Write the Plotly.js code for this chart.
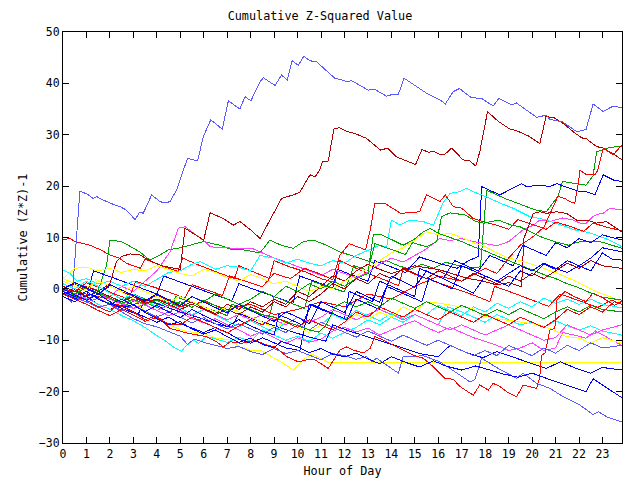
<!DOCTYPE html>
<html>
<head>
<meta charset="utf-8">
<script src="https://cdn.plot.ly/plotly-3.0.1.min.js"></script>
<style>
html,body{margin:0;padding:0;background:#fff;}
#chart{width:640px;height:480px;}
#chart path.js-line, #chart path.xlines-above, #chart path.ylines-above, #chart path.xtick, #chart path.ytick { shape-rendering: crispEdges; }
</style>
</head>
<body>
<div id="chart"></div>
<script>
// Hour tick labels
const hourTicks = [0,1,2,3,4,5,6,7,8,9,10,11,12,13,14,15,16,17,18,19,20,21,22,23];

// Series (hour, cumulative value)
const s01H = [0,0.37,0.72,0.8,1.01,1.29,1.44,1.58,2.0,2.43,2.7,3.07,3.28,3.42,3.78,4.13,4.35,4.56,4.85,5.13,5.31,5.74,5.98,6.3,6.79,7.05,7.54,7.76,8.01,8.4,8.54,9.04,9.32,9.56,9.77,10.03,10.27,10.53,10.81,11.59,12.09,12.31,13.01,13.3,13.8,14.08,14.3,14.54,15.5,16.07,16.3,16.64,16.9,17.42,17.84,18.34,18.58,19.12,19.33,20.19,20.6,20.76,21.3,21.9,22.3,22.6,23.03,23.46,23.83];
const s01V = [0,-2.8,19.0,18.9,18.5,17.6,17.95,17.6,16.7,16.0,15.35,13.5,15.0,14.7,18.3,17.0,16.7,17.0,19.3,23.1,25.4,24.9,29.6,32.9,31.1,36.6,35.0,37.4,36.6,40.3,41.1,39.6,41.6,40.7,44.4,43.5,45.3,44.4,44.2,41.0,40.4,40.5,38.7,38.8,37.5,37.9,37.9,41.0,38.1,36.8,36.0,38.4,39.0,37.2,37.1,35.6,37.1,35.8,36.2,33.4,33.8,33.0,32.5,30.6,31.0,36.0,34.5,35.6,35.2];

const s02H = [0,0.5,1,1.5,2,2.28,2.5,2.86,3.28,3.7,4.2,4.77,5.0,5.2,5.5,6.0,6.27,6.83,7.26,7.54,8.0,8.4,8.54,9.0,9.32,9.82,10.1,10.32,10.53,10.75,10.95,11.07,11.31,11.55,11.78,12.09,12.52,12.94,13.54,13.84,14.22,15.03,15.3,15.6,15.8,16.07,16.28,16.57,17.06,17.35,17.6,17.77,18.1,18.56,19.05,19.33,19.83,20.33,20.59,20.9,21.33,21.75,22.11,22.32,22.75,23.03,23.53,23.83];
const s02V = [0,-0.5,0.5,-0.5,1.0,5.3,6.3,6.8,6.6,5.5,4.5,4.0,3.8,11.8,11.0,9.5,14.8,13.7,12.4,13.1,11.5,9.8,11.0,15.0,17.6,18.3,18.8,20.6,22.2,21.8,23.2,24.8,24.9,31.1,31.4,30.7,30.1,29.3,27.0,27.4,25.7,24.2,27.1,26.6,26.8,26.2,26.2,27.4,25.1,24.9,23.9,26.7,34.5,32.6,31.1,30.8,29.8,28.3,33.5,33.4,32.2,30.6,29.4,29.2,27.7,27.4,26.1,25.1];

const s03H = [0,0.3,0.5,1.15,1.6,2,2.4,2.7,3.3,3.5,4.2,4.9,5.1,5.8,6.6,7.3,7.5,8.2,8.8,9.0,9.6,10.4,11,11.6,11.8,12.4,13,13.8,14.3,14.5,15.2,16,16.8,17.5,18.2,18.4,19.2,20,20.7,21.2,22,22.8,23.4,23.83];
const s03V = [9.5,9.85,9.2,8.5,7.6,6.6,6.0,5.0,4.0,5.8,4.5,3.4,6.0,4.6,3.2,2.0,4.5,3.2,2.0,5.5,4.4,3.2,2.0,1.2,5.5,4.2,3.0,1.6,0.6,3.8,2.5,1.2,0,-1.2,-2.5,0.5,-0.8,-2.2,-3.4,-1.0,-2.3,-3.6,-2.2,-3.0];

const s04H = [0,0.5,1,1.5,1.86,2.0,2.5,3.28,3.7,4.1,4.49,5.0,5.41,5.98,6.69,7.2,7.69,8.4,8.82,9.3,9.82,10.25,10.67,11.24,11.81,12.3,12.8,13.3,13.8,14.3,14.8,15.3,15.8,16.3,16.8,17.3,17.8,18.06,18.84,19.34,19.76,20.12,20.6,21.1,21.3,21.8,22.3,22.6,22.75,23.3,23.83];
const s04V = [0,-0.5,0.5,-0.3,4.6,9.5,9.2,7.2,5.6,6.5,7.6,8.0,8.5,9.2,8.5,7.6,7.6,7.0,9.5,8.5,7.9,9.2,9.5,8.5,7.2,6.5,5.8,5.0,5.5,4.5,3.8,4.8,4.0,5.2,4.6,4.0,4.3,19.2,17.6,16.7,16.0,15.4,15.0,18.0,20.9,20.5,20.2,22.0,26.7,27.5,27.8];

const s05H = [0,0.6,1.2,1.8,2.5,3.2,3.9,4.6,4.8,5.5,6.3,7,7.2,8,8.8,9.0,9.7,10.3,10.6,11.3,12,12.4,13,13.3,14,14.6,14.9,15.5,15.93,16.14,16.5,17.14,17.6,17.95,18.56,19.12,19.48,20.33,20.97,21.54,22.04,22.9,23.83];
const s05V = [-0.5,-1.5,-1,-2.5,-3.5,-2,-3.4,-4.5,-1.5,-2.7,-4.0,-5.2,-3,-4.3,-5.5,-1.5,-2.7,-3.8,1.5,0.5,-0.6,4.5,3.6,8.8,7.6,6.7,9.0,8.2,9.2,14.05,14.8,14.4,13.1,12.8,13.4,12.4,12.1,10.2,9.2,8.5,9.2,9.2,7.9];

const s06H = [0,0.5,1,1.3,2,2.7,3.4,4,4.3,5,5.8,6.5,7.2,7.5,8.2,9,9.8,10.1,10.8,11.5,11.7,12.4,13,13.3,14,14.6,15.2,16,16.8,17.3,17.7,17.85,18.63,18.98,19.55,19.76,20.33,20.76,21.05,21.4,22.0,22.32,22.68,23.03,23.46,23.83];
const s06V = [-1,-0.2,-1.5,3.5,2.4,1.2,0,-1,2.5,1.3,0,-1.2,-2.3,1.0,-0.2,-1.5,-2.8,2.5,1.3,0.2,3.8,2.6,1.5,5.5,4.3,3.2,6.2,5.0,4.0,5.5,6.3,19.9,18.3,19.2,20.5,19.9,20.2,19.9,20.5,19.9,19.0,18.9,18.3,22.2,21.2,20.9];

const s07H = [0,0.3,0.6,1,1.5,2,2.5,3,3.5,4,4.5,5,5.5,5.84,6.5,7,7.5,8,8.4,9,9.5,10,10.5,11,11.5,12,12.5,13,13.5,13.8,14,14.37,14.79,15.36,15.79,16.2,16.5,16.92,17.21,17.49,18.06,18.63,19.19,19.62,19.9,20.33,20.6,21.2,21.8,22.4,22.9,23.3,23.83];
const s07V = [3.7,3.0,1.5,2,1,1.5,0.5,1.5,0.5,1.8,3.2,3.5,4.8,5.3,3.8,4.5,4.2,3.5,6.5,6,5,5.8,5,4.5,5.5,5,6.5,7.5,8.5,8.2,13.4,12.4,13.4,13.1,12.4,16.7,18.6,18.9,19.6,18.9,17.9,16.7,15.7,14.7,14.05,13.7,13.4,12.5,11.5,11,10.2,9.5,8.2];

const s08H = [0,0.5,1,1.6,2.2,2.8,3.1,3.8,4.5,5.2,5.5,6.2,6.8,7.1,7.8,8.5,9,9.7,10.3,10.9,11.5,11.8,12.2,12.9,13.1,13.3,13.7,14.4,15.2,15.5,16.07,16.3,16.64,17.0,17.49,17.9,18.5,19,19.4,20,20.6,21,21.6,22.2,22.6,23.2,23.83];
const s08V = [0.5,-0.5,1.2,0.2,-1,-2,1.5,0.5,-0.6,-1.8,0.8,-0.3,-1.3,2.5,1.4,0.4,3,2,4,3,1.8,6.5,8.8,7.6,11.5,16.7,16.7,14.7,15.0,18.3,17.0,18.3,16.0,15.7,13.7,13.1,12.4,11.6,13.5,12.6,11.6,13,12.2,11.2,12.8,12,11.3];

const s09H = [0,1,2,3,4,5,6,7,8,9,10,11,12,13,14,15,16,17,18,18.5,19,19.5,20,20.5,21.1,21.4,21.6,21.82,21.97,22.04,22.32,22.68,22.8,23.03,23.46,23.83];
const s09V = [0,-1,-2,-3,-2,-3.5,-2.5,-4,-3,-5,-4,-2.5,-3.5,-1,-2,0.5,2.5,1.5,4,3,6,8.5,10,12,18.0,17.6,17.0,16.7,20.5,23.1,22.2,22.2,23.1,27.4,26.1,28];

const s10H = [0,0.5,1,1.5,2,2.3,3,3.5,4,4.56,5.34,5.7,6.12,6.55,6.84,7.12,7.6,8.2,8.6,9.04,9.54,10.03,10.39,10.74,11.31,11.81,12.09,12.38,12.8,13.09,13.3,13.65,14.08,14.5,14.93,15.36,15.79,16.28,16.64,16.92,17.49,17.77,18.13,18.34,18.63,18.91,19.34,19.62,19.9,20.19,20.33,20.4,20.55,20.76,20.97,21.05,21.4,21.8,22.3,22.6,23.1,23.5,23.83];
const s10V = [-0.5,-1.5,-2.2,-3.5,-4.5,-3,-4.5,-6,-5.2,-7.7,-8.65,-9.0,-9.3,-10.3,-11.3,-10.3,-10.6,-10.0,-10.8,-11.3,-13.2,-14.2,-13.8,-13.8,-15.5,-11.9,-11.3,-11.9,-12.5,-11.6,-9.3,-9.95,-10.9,-11.9,-12.9,-13.5,-15.15,-17.4,-17.6,-19.0,-20.7,-18.7,-19.7,-18.4,-19.0,-20.0,-21.0,-18.7,-19.0,-19.35,-17.1,-12.9,-12.5,-8.0,-7.7,-2.2,-0.5,-1.5,-2.5,-0.8,-2.0,-3.2,-2.4];

const s11H = [0,0.5,1,1.4,2,2.5,3,3.3,3.71,4.13,4.7,5.27,5.98,6.55,7.12,7.54,7.97,8.4,8.84,9.4,9.82,10.25,10.6,11.3,23.83];
const s11V = [1.5,0.5,-0.5,1.8,0.6,-0.6,-2.0,-3.5,-5.1,-6.05,-7.4,-8.3,-8.65,-9.6,-9.95,-11.3,-11.9,-11.9,-13.0,-14.5,-15.8,-13.8,-12.6,-14.3,-14.3];

const s12H = [0,0.5,1,1.5,2,2.5,3,3.5,4,4.5,5,5.5,6,6.5,7,7.5,8,8.5,9,9.5,10,10.5,11,11.5,12,12.5,13,13.5,14,14.5,15,15.5,16,16.5,17,17.5,18,18.5,19,19.5,20,20.5,21.1,21.75,22.32,22.75,23.32,23.83];
const s12V = [2,4,4.2,3.5,4,3.2,3.8,3.5,4.5,3.8,3.0,2.5,3.8,3.2,2.2,1.5,2.8,2,1.0,1.5,0.5,-0.5,0.5,0,1.5,2.5,4,5.5,7,8,9.5,11.1,10.5,10.8,10,9,8.2,7,6,5.5,4.8,4.0,3.0,1.7,0.4,-0.55,-1.5,-2.5];

const s13H = [0,0.5,1,1.5,2,2.5,3,3.5,4.0,4.56,4.92,5.2,5.6,6.05,6.27,6.8,7.54,8.1,8.5,9,9.5,10,10.5,11,11.5,12,12.5,13,13.5,14,14.5,15,15.5,16.07,16.5,17,17.5,18,18.5,19.0,19.33,19.62,20.05,20.33,20.76,21.3,21.75,22.04,22.32,22.6,22.9,23.03,23.32,23.83];
const s13V = [0,-1,0.5,-0.5,-1.5,0.5,-0.5,1.5,3.5,7.2,11.8,12.1,10.8,9.2,8.2,8.0,7.9,7.8,7.0,6,5.2,4.4,3.5,2.6,3.8,3.0,2.2,3.2,4.8,6.0,5.2,6.5,7.8,9.8,9.4,9.8,9.2,8.8,8.4,9.2,10.5,11.5,12.4,13.4,13.1,13.8,13.4,12.8,12.8,14.1,14.7,14.7,15.7,15.35];

const s14H = [0,0.5,1,1.5,2,2.5,3,3.5,4,4.5,5,5.3,5.6,6,6.5,7,7.5,8,8.5,9,9.5,10,10.5,11,11.5,12,12.5,12.94,13.16,13.37,14.01,14.3,14.5,15.08,15.3,15.8,16.07,16.6,17.35,17.56,17.85,18.56,19.34,19.62,20.19,20.76,21.33,22.04,22.6,22.82,23.18,23.83];
const s14V = [-0.5,-1.8,-2.5,-3.6,-3.0,-4.5,-5.8,-6.8,-7.4,-8.3,-9.2,-10.8,-9.8,-10.4,-11,-11.6,-11.2,-12.2,-12.8,-11.6,-12.6,-12.0,-12.9,-13.8,-12.6,-13.0,-13.7,-13.2,-14.2,-13.5,-15.5,-16.4,-13.2,-13.2,-12.9,-13.8,-14.2,-15.8,-18.1,-17.7,-13.5,-15.5,-17.4,-16.4,-18.4,-19.35,-21.0,-22.6,-24.5,-23.9,-24.9,-25.9];

const s15H = [0,0.6,1.2,1.8,2.5,3.2,3.5,4.2,5,5.8,6.5,7.2,7.5,8.2,9,9.8,10.5,11.2,11.5,12.2,13,13.8,14.5,15.2,16,16.5,17.2,17.9,18.5,19.2,20,20.6,21.2,21.9,22.5,23,23.83];
const s15V = [-1,-2,-1,-2.5,-3.8,-5,-2,-3.2,-4.5,-5.6,-6.8,-7.5,-4.8,-6,-7.2,-8.3,-9.4,-10.2,-7,-8.2,-9.3,-10.5,-11.5,-12.6,-13.2,-11,-12.4,-13.4,-12.2,-13.3,-14.5,-15.5,-14.2,-15.5,-16.4,-15.3,-15.8];

const s16H = [0,0.5,1,1.5,2,2.5,3,3.5,4,4.5,5,5.5,6,6.5,7,7.5,8,8.5,9,9.3,10,10.5,11,11.5,12,12.5,13,13.5,14,14.6,15.2,15.8,16.3,17,17.6,18.2,18.8,19.4,20,20.6,21.2,21.8,22.3,22.6,23.2,23.83];
const s16V = [0,-1.2,-2.2,-1,-2.5,-3.8,-3.0,-4.6,-5.8,-7,-6.4,-7.8,-8.8,-8,-9.3,-10.4,-9.6,-10.8,-11.5,-10.2,-11.3,-12.4,-11.6,-12.7,-13.2,-12.5,-13.6,-14.6,-13.2,-14.3,-15.2,-14.0,-15.0,-15.8,-15.0,-15.8,-16.6,-17.2,-16.4,-17.4,-18.3,-19.2,-20.0,-17.5,-19.3,-21.2];

const s17H = [0,0.5,1,1.5,2,2.5,3,3.5,3.85,4.42,4.7,5.06,5.2,5.56,5.77,6.12,6.41,7,7.5,8,8.5,9,9.5,10,10.5,11,11.5,12,12.5,13,13.5,14,14.5,15,15.5,16,16.4,17,17.5,18,18.5,19,19.5,20,20.5,21,21.5,22,22.5,23,23.83];
const s17V = [0.5,-0.5,-1.8,-3,-4,-5.2,-6.2,-7.5,-8.65,-10.3,-11.3,-12.2,-11.3,-9.95,-10.6,-9.3,-9.6,-10.4,-9.4,-10.2,-8.0,-9.0,-10.0,-9.2,-10.2,-8.6,-9.6,-8.5,-7.5,-6.0,-7.0,-5.5,-6.5,-5.0,-6.0,-7.0,-3.5,-4.5,-5.5,-6.5,-5.0,-6.0,-7.0,-6.5,-7.5,-6.2,-7.2,-8.0,-7.2,-8.2,-9.0];

const s18H = [0,0.5,1,1.5,2,2.5,3,3.5,4,4.5,5,5.5,6,6.5,7,7.5,8,8.5,9,9.5,10,10.5,11,11.5,12,12.5,13,13.5,14,14.5,15,15.5,16,16.5,17,17.5,18,18.5,19,19.5,20,20.5,21,21.3,21.8,22.3,22.7,23.2,23.83];
const s18V = [0.5,-0.5,-1.5,-0.5,-1.8,-2.8,-3.8,-3.0,-4.2,-5.2,-4.5,-5.8,-6.6,-5.8,-7.0,-8.0,-9.2,-8.3,-9.5,-10.6,-9.5,-10.4,-9.8,-8.2,-7.5,-8.4,-7.6,-9.0,-8.0,-7.0,-6.2,-7.5,-8.5,-7.5,-8.5,-9.5,-10.2,-11.0,-12,-11.5,-10.5,-12.0,-11.5,-8.5,-9.0,-9.6,-8.2,-9.5,-11];

const s19H = [0,0.5,1,1.5,2,2.5,3,3.5,4,4.5,5,5.5,6,6.5,7,7.5,8,8.5,9,9.5,10,10.5,11,11.5,12,12.5,13,13.5,14,15,16.07,16.6,17.2,17.8,18.48,19,19.55,19.65,20.05,20.33,20.6,21.05,21.47,21.9,22.32,22.75,23.17,23.83];
const s19V = [0,1.0,0,-1.0,0.5,-0.5,-1.5,-2.5,-1.2,-2.4,-3.5,-2.5,-3.8,-4.8,-3.0,-4.0,-2.5,-3.5,-2.0,-3.0,-0.5,-1.5,0.5,2.5,1.5,3.5,4.8,3.8,3.0,4.5,3.7,3.0,2.1,1.6,0.8,1.2,0.4,9.8,14.7,15.0,14.7,15.0,14.7,13.4,13.4,12.8,13.1,11.1];

const s20H = [0,0.5,1,1.5,2,2.5,3,3.5,4,4.5,5,5.5,6,6.5,7,7.5,8,8.5,9,9.5,10.1,10.5,11,11.5,12,12.2,12.7,13.2,13.5,14,14.5,15,15.2,15.7,16.2,16.7,17.2,17.7,18.2,18.7,19.2,19.6,20.1,20.6,21,21.5,22,22.5,23,23.4,23.83];
const s20V = [-1.5,-2.5,-1.5,-3,-4,-3.2,-4.5,-5.5,-6.5,-5.5,-6.8,-7.6,-8.5,-7.5,-8.5,-9.8,-10.6,-9.5,-10.5,-11.5,-12.0,-3.0,-4.0,-5.0,-6.0,-0.5,-1.5,-2.5,1.5,0.5,-0.5,-1.5,4.0,3.0,2.0,5.5,4.5,3.5,6.5,5.5,4.5,8.5,7.5,6.5,9.0,8.0,9.8,9.0,10.5,10.0,9.5];

const s21H = [0,0.5,1,1.5,2,2.5,3,3.5,4,4.5,5,5.5,6,6.5,7,7.5,8,8.5,9,9.5,10,10.5,11,11.5,12,12.5,13,13.5,14,14.5,15,15.5,16,16.5,17,17.5,18,18.5,19,19.5,20,20.5,21,21.5,22,22.5,23,23.4,23.83];
const s21V = [0,1.2,0.2,-1,0.8,-0.2,-1.2,-2.3,-1,-2.2,-3.3,-1.5,-2.6,-3.6,-4.7,-3,-4.2,-5.3,-6.3,-4.5,-5.5,-6.8,-2.5,-3.5,-4.6,-0.5,-1.6,-2.6,2.5,1.4,0.3,3.5,2.4,1.3,0.3,-0.8,2.5,1.5,0.5,3.5,2.5,4.8,3.8,5.5,4.5,6.0,8.0,7.6,7.2];

const s22H = [0,0.5,1,1.5,2,2.5,3,3.5,4,4.5,5,5.5,6,6.5,7,7.5,8,8.5,9,9.2,9.7,10.2,10.6,11.1,11.6,12.1,12.5,13,13.5,13.8,14.3,14.8,15.3,15.6,16.1,16.6,17.0,17.5,18,18.5,19,19.5,20,20.5,21,21.5,22,22.5,23,23.4,23.83];
const s22V = [-0.5,-1.5,-0.5,-2,-3,-2,-3.2,-4.4,-3.2,-4.5,-5.6,-4,-5.2,-6.3,-7.3,-6.0,-7.2,-8.2,-9.0,-5.0,-6.0,-7.0,-3.0,-4.0,-5.0,-6.0,-2.0,-3.0,-4.0,0.5,-0.5,-1.5,-2.5,2.0,1.0,0.0,4.5,3.5,2.5,1.5,3.0,4.5,3.5,5.0,4.0,3.2,4.5,3.5,7.0,5.8,5.6];

const s23H = [0,0.5,1,1.5,2,2.5,3,3.5,4,4.5,5,5.5,6,6.5,7,7.5,8,8.5,9,9.5,10,10.5,11,11.5,12,12.5,13,13.5,14,14.5,15,15.5,16,16.5,17,17.5,18,18.5,19,19.5,20,20.5,21,21.5,22,22.5,23,23.83];
const s23V = [1,0,1.5,0.5,-0.8,-2,-1,-2.3,-3.5,-2.5,-3.8,-5,-4,-5.2,-6.3,-7.4,-6.2,-7.4,-8.4,-6.5,-7.5,-8.5,-7.0,-5.0,-6.0,-4.2,-5.2,-6.2,-4.8,-5.8,-4.0,-5.0,-3.2,-4.2,-5.2,-3.5,-4.5,-2.8,-3.8,-2.5,-3.5,-1.8,-2.8,-2.0,-3.0,-2.0,-3.0,-3.7];

const s24H = [0,0.5,1,1.5,2,2.5,3,3.5,4,4.5,5,5.5,6,6.5,7,7.5,8,8.5,9,9.5,10,10.5,11,11.5,12,12.5,13,13.5,14,14.5,15,15.5,16,16.5,17,17.5,18,18.5,19,19.5,20,20.5,21,21.5,22,22.5,23,23.5,23.83];
const s24V = [-1,-2,-3,-4.2,-5.2,-4,-5.2,-6.3,-5.6,-6.8,-7.0,-5.5,-6.5,-7.5,-8.6,-7.2,-6.0,-7.0,-5.5,-6.5,-7.5,-6.0,-7.0,-8.0,-6.5,-4.5,-5.5,-3.5,-4.5,-5.5,-4.0,-5.0,-6.0,-4.5,-5.5,-6.5,-5.0,-6.0,-7.0,-5.5,-6.5,-7.5,-6.0,-4.0,-5.0,-3.5,-4.5,-2.5,-3.0];

const s25H = [0,0.5,1,1.5,2,2.5,3,3.5,4,4.5,5,5.5,6,6.5,7,7.5,8,8.5,9,9.5,10,10.5,10.9,11.2,11.6,12,12.5,13,13.5,14,14.5,15,15.5,16,16.5,17,17.5,18,18.5,19,19.5,20,20.5,21,21.5,22,22.5,23,23.83];
const s25V = [0,-1,0.2,-0.8,-1.8,-2.8,-2,-3,-2.2,-3.4,-2.5,-3.6,-2.2,-3.3,-4.4,-3.0,-4.0,-5.0,-5.5,-6.3,-7.2,-8.0,-8.4,-7.2,-3.5,-2.5,-3.5,-2.5,-3.5,-1.8,-2.8,-3.8,-2.5,-3.5,-4.5,-3.2,-4.2,-5.2,-4.0,-5.0,-3.8,-4.8,-5.8,-4.5,-3.5,-4.5,-3.2,-4.0,-4.5];

const s26H = [0,0.5,1,1.5,2,2.5,3,3.5,4,4.5,5,5.5,6,6.5,7,7.5,8,8.5,9,9.5,10,10.5,11,11.5,12,12.5,13,13.5,14,14.5,15,15.5,16,16.5,17,17.5,18,18.5,19,19.5,20,20.5,21,21.5,22,22.5,23,23.83];
const s26V = [-0.5,-1.5,-2.6,-1.8,-3.0,-4.2,-3.2,-4.4,-5.5,-4.5,-5.6,-6.6,-5.6,-6.8,-7.8,-6.8,-7.8,-8.8,-7.5,-8.5,-7.0,-8.0,-6.5,-7.5,-8.5,-9.4,-8.2,-9.2,-10.2,-9.0,-10.0,-11.0,-10.0,-11.0,-12.0,-13.0,-12.0,-13.0,-11.0,-12.0,-13.0,-11.5,-12.5,-11.0,-12.0,-10.5,-11.5,-11.0];

const s27H = [0,0.5,1,1.5,2,2.5,3,3.5,4,4.5,5,5.5,6,6.5,7,7.5,8,8.5,9,9.5,10,10.5,11,11.5,12,12.5,13,13.5,14,14.5,15,15.5,16,16.5,17,17.5,18,18.5,19,19.5,20,20.5,21,21.5,22,22.5,23,23.83];
const s27V = [0.5,-0.5,-1.5,-0.5,-1.5,-2.5,-1.5,-2.8,-2.0,-3.0,-4.0,-3.0,-4.0,-5.0,-4.0,-5.0,-3.5,-4.5,-2.5,-3.5,-1.5,-2.5,-1.0,1.0,0.0,2.0,1.0,3.0,2.0,4.0,3.0,2.0,3.5,2.5,1.5,3.0,2.0,1.0,2.5,1.5,3.0,2.0,3.5,5.0,4.0,5.5,4.5,4.0];

const s28H = [0,0.5,1,1.5,2,2.5,3,3.5,4,4.5,5,5.5,6,6.5,7,7.5,8,8.5,9,9.5,10,10.5,11,11.5,12,12.5,13,13.5,14,14.5,15,15.5,16,16.5,17,17.5,18,18.5,19,19.5,20,20.5,21,21.5,22,22.5,23,23.83];
const s28V = [0,-1,-2,-1,-2,-3,-2.2,-3.2,-4.2,-3.2,-4.2,-5.2,-4,-5,-6,-5,-6,-5,-6,-7,-5.5,-6.5,-5.5,-4,-5,-6,-5,-4,-5,-6,-5,-6,-7,-8,-7,-8,-9,-8,-7,-8,-9,-10,-9.5,-7,-8,-9,-8,-7];

const s29H = [0,0.5,1,1.5,2,2.5,3,3.5,4,4.5,5,5.5,6,6.5,7,7.5,8,8.5,9,9.5,10,10.5,11,11.5,12,12.5,13,13.5,14,14.5,15,15.5,16.07,16.92,17.49,17.77,18.5,19.5,20.33,21,21.47,22.04,22.46,23.0,23.32,23.83];
const s29V = [2,1,0.3,1.5,0.5,-0.5,0.5,-0.5,-1.5,-2.5,-1.5,-2.5,-3.5,-4.5,-3.5,-4.5,-5.5,-6.5,-7.5,-6.5,-7.5,-8.5,-7.0,-8.0,-6.5,-5.0,-6.0,-4.5,-5.5,-3.5,-4.5,-2.5,-2.8,-3.5,-3.8,-5.1,-5.8,-6.5,-7.0,-8.2,-9.3,-9.6,-10.6,-9.5,-9.95,-10.6];

const s30H = [0,0.5,1,1.5,2,2.5,3,3.5,4,4.5,5,5.5,6,6.5,7,7.5,8,8.5,9,9.5,10,10.5,11,11.5,12,12.5,13,13.23,13.6,14.08,14.5,14.93,15.36,15.65,16,16.5,17,17.5,18,18.5,19,19.5,20,20.5,21,21.5,22,22.5,23,23.83];
const s30V = [0.5,-0.5,-1.5,-0.5,-1.5,-2.5,-1.0,-2.0,-3.0,-2.0,-3.0,-1.5,-2.5,-1.0,-2.0,-3.0,-2.0,-0.5,-1.5,0.5,-0.5,1.0,0.0,1.5,0.5,2.0,3.0,10.5,10.5,9.5,8.5,9.5,11.1,11.8,10.8,10.0,9.2,8.2,7.4,6.4,5.5,4.6,3.6,2.8,2.0,1.0,0.2,-0.8,-1.6,-2.2];

// Line colours, in gnuplot-like order
const RED = '#ff0000', GREEN = '#00a000', BLUE = '#0000ff', MAGENTA = '#ff40ff',
      CYAN = '#00ffff', DARKRED = '#b00000', YELLOW = '#ffff00', SLATE = '#5a5aff';

const series = [
  [s03H, s03V, RED], [s04H, s04V, GREEN], [s06H, s06V, BLUE], [s13H, s13V, MAGENTA],
  [s07H, s07V, CYAN], [s02H, s02V, DARKRED], [s11H, s11V, YELLOW], [s01H, s01V, SLATE],
  [s08H, s08V, RED], [s05H, s05V, GREEN], [s20H, s20V, BLUE], [s18H, s18V, MAGENTA],
  [s17H, s17V, CYAN], [s19H, s19V, DARKRED], [s12H, s12V, YELLOW], [s14H, s14V, SLATE],
  [s09H, s09V, RED], [s30H, s30V, GREEN], [s15H, s15V, BLUE], [s28H, s28V, MAGENTA],
  [s23H, s23V, CYAN], [s27H, s27V, DARKRED], [s29H, s29V, YELLOW], [s26H, s26V, SLATE],
  [s10H, s10V, RED], [s25H, s25V, GREEN], [s21H, s21V, BLUE], [s16H, s16V, BLUE],
  [s22H, s22V, BLUE], [s24H, s24V, RED]
];

const traces = series.map(([h, v, c]) => ({
  x: h, y: v, type: 'scatter', mode: 'lines',
  line: {color: c, width: 1}, hoverinfo: 'skip', showlegend: false
}));

const FONT = 'DejaVu Sans Mono, Liberation Mono, monospace';

const layout = {
  width: 640, height: 480,
  margin: {l: 63, r: 18, t: 32, b: 37, pad: 0},
  paper_bgcolor: '#ffffff', plot_bgcolor: '#ffffff',
  font: {family: FONT, size: 11.5, color: '#000000'},
  title: {text: 'Cumulative Z-Squared Value', font: {family: FONT, size: 11.8, color: '#000'},
          x: 0.5, xanchor: 'center', y: 1 - 16/480, yanchor: 'middle', yref: 'container'},
  showlegend: false,
  xaxis: {
    range: [0, 23.833], tickmode: 'array', tickvals: hourTicks, ticktext: hourTicks.map(String),
    ticks: 'inside', ticklen: 6, tickwidth: 1, tickcolor: '#000',
    showline: true, linecolor: '#000', linewidth: 1, mirror: 'ticks',
    showgrid: false, zeroline: false, automargin: false,
    tickfont: {family: FONT, size: 11.5},
    title: {text: 'Hour of Day', font: {family: FONT, size: 11.8}, standoff: 6}
  },
  yaxis: {
    range: [-30, 50], tickmode: 'linear', tick0: -30, dtick: 10,
    ticks: 'inside', ticklen: 6, tickwidth: 1, tickcolor: '#000',
    showline: true, linecolor: '#000', linewidth: 1, mirror: 'ticks',
    showgrid: false, zeroline: false, automargin: false,
    tickfont: {family: FONT, size: 11.5},
    title: {text: 'Cumulative (Z*Z)-1', font: {family: FONT, size: 11.8}, standoff: 8}
  }
};

Plotly.newPlot('chart', traces, layout, {staticPlot: true, displayModeBar: false});
</script>
</body>
</html>
